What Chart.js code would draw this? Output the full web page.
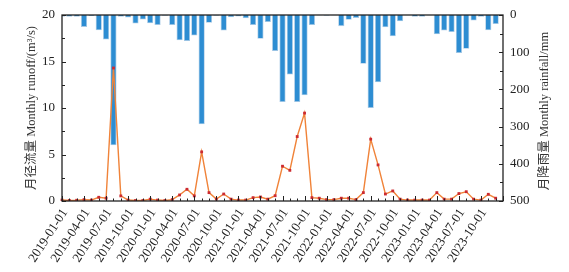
<!DOCTYPE html>
<html>
<head>
<meta charset="utf-8">
<script src="https://cdn.jsdelivr.net/npm/chart.js@4.4.0/dist/chart.umd.min.js"></script>
<style>
  html, body { margin: 0; padding: 0; background: #fff; }
  #contenedor { width: 569px; height: 272px; }
</style>
</head>
<body>
<div id="contenedor"><canvas id="grafico"></canvas></div>
<script>
// Meses (el ultimo solo marca el final del eje)
const meses = [
  '2019-01-01','2019-02-01','2019-03-01','2019-04-01','2019-05-01','2019-06-01',
  '2019-07-01','2019-08-01','2019-09-01','2019-10-01','2019-11-01','2019-12-01',
  '2020-01-01','2020-02-01','2020-03-01','2020-04-01','2020-05-01','2020-06-01',
  '2020-07-01','2020-08-01','2020-09-01','2020-10-01','2020-11-01','2020-12-01',
  '2021-01-01','2021-02-01','2021-03-01','2021-04-01','2021-05-01','2021-06-01',
  '2021-07-01','2021-08-01','2021-09-01','2021-10-01','2021-11-01','2021-12-01',
  '2022-01-01','2022-02-01','2022-03-01','2022-04-01','2022-05-01','2022-06-01',
  '2022-07-01','2022-08-01','2022-09-01','2022-10-01','2022-11-01','2022-12-01',
  '2023-01-01','2023-02-01','2023-03-01','2023-04-01','2023-05-01','2023-06-01',
  '2023-07-01','2023-08-01','2023-09-01','2023-10-01','2023-11-01','2023-12-01',
  '2024-01-01'
];

// Caudal mensual (m3/s)
const caudal = [
  0.1, 0.05, 0.08, 0.15, 0.1, 0.4, 0.3, 14.3, 0.55, 0.1, 0.05, 0.05,
  0.2, 0.1, 0.05, 0.15, 0.65, 1.26, 0.55, 5.28, 0.9, 0.2, 0.75, 0.2,
  0.1, 0.1, 0.36, 0.43, 0.2, 0.57, 3.74, 3.3, 6.93, 9.45, 0.36, 0.3,
  0.15, 0.15, 0.3, 0.3, 0.15, 0.9, 6.65, 3.88, 0.75, 1.08, 0.2, 0.1,
  0.1, 0.1, 0.1, 0.9, 0.2, 0.2, 0.8, 1.0, 0.2, 0.1, 0.72, 0.3
];

// Lluvia mensual (mm)
const lluvia = [
  5, 5, 5, 32, 3, 41, 66, 350, 5, 7, 23, 12,
  22, 27, 2, 27, 68, 70, 55, 294, 21, 2, 42, 6,
  4, 9, 27, 64, 19, 97, 234, 160, 234, 216, 27, 1,
  2, 1, 30, 13, 8, 131, 250, 181, 33, 57, 17, 1,
  5, 5, 1, 52, 42, 46, 102, 91, 15, 5, 41, 24
];

const ticksCaudal = [0, 5, 10, 15, 20];
const ticksLluvia = [0, 100, 200, 300, 400, 500];

const tituloIzq = '月径流量 Monthly runoff/(m³/s)';
const tituloDer = '月降雨量 Monthly rainfall/mm';
const fuente = "'Liberation Serif', 'Noto Sans CJK SC', serif";

// Marcas hacia dentro, recuadro y titulo derecho
const marcasDentro = {
  id: 'marcasDentro',
  afterDraw(chart) {
    const { ctx, chartArea: a, scales } = chart;
    ctx.save();
    ctx.strokeStyle = '#222';
    ctx.lineWidth = 1;
    ctx.beginPath();
    for (let i = 0; i < meses.length; i++) {
      const x = Math.round(scales.x.getPixelForValue(i)) + 0.5;
      const largo = i % 3 === 0 ? 5 : 2.5;
      ctx.moveTo(x, a.bottom);
      ctx.lineTo(x, a.bottom - largo);
    }
    for (let v = 0; v <= 20; v += 2.5) {
      const y = Math.round(scales.y.getPixelForValue(v)) + 0.5;
      ctx.moveTo(a.left, y);
      ctx.lineTo(a.left + (v % 5 === 0 ? 4 : 3), y);
    }
    for (let v = 0; v <= 500; v += 50) {
      const y = Math.round(scales.y2.getPixelForValue(v)) + 0.5;
      ctx.moveTo(a.right, y);
      ctx.lineTo(a.right - (v % 100 === 0 ? 4 : 3), y);
    }
    ctx.stroke();
    ctx.lineWidth = 1.3;
    ctx.strokeRect(a.left, a.top, a.right - a.left, a.bottom - a.top);

    ctx.fillStyle = '#333';
    ctx.font = '12.5px ' + fuente;
    ctx.textAlign = 'center';
    ctx.textBaseline = 'middle';
    ctx.translate(545, (a.top + a.bottom) / 2 + 3);
    ctx.rotate(-Math.PI / 2);
    ctx.fillText(tituloDer, 0, 0);
    ctx.restore();
  }
};

const ctx = document.getElementById('grafico').getContext('2d');
const grafico = new Chart(ctx, {
  type: 'bar',
  data: {
    labels: meses,
    datasets: [
      {
        type: 'line',
        label: 'runoff',
        data: caudal,
        yAxisID: 'y',
        borderColor: '#f08339',
        borderWidth: 1.4,
        tension: 0,
        pointStyle: 'rect',
        pointRadius: 2,
        pointBackgroundColor: '#cc2a30',
        pointBorderWidth: 0,
        order: 1
      },
      {
        type: 'bar',
        label: 'rainfall',
        data: lluvia,
        yAxisID: 'y2',
        backgroundColor: '#2d8dd2',
        borderColor: '#a6c8e4',
        borderWidth: 0.8,
        barPercentage: 0.84,
        categoryPercentage: 1,
        order: 2
      }
    ]
  },
  options: {
    responsive: true,
    maintainAspectRatio: false,
    animation: false,
    layout: { padding: { top: 15, left: 0, right: 0, bottom: 0 } },
    plugins: {
      legend: { display: false },
      tooltip: { enabled: false }
    },
    scales: {
      x: {
        type: 'category',
        offset: false,
        grid: { display: false, drawTicks: false },
        border: { display: false },
        ticks: {
          autoSkip: false,
          minRotation: 57,
          maxRotation: 57,
          padding: 5,
          labelOffset: 3,
          color: '#222',
          font: { family: fuente, size: 13 },
          callback: function (val, i) {
            return (i % 3 === 0 && i < meses.length - 1) ? meses[i] : '';
          }
        },
        afterFit: function (s) { s.height = 71; }
      },
      y: {
        position: 'left',
        min: 0,
        max: 20,
        grid: { display: false, drawTicks: false },
        border: { display: false },
        afterBuildTicks: function (s) { s.ticks = ticksCaudal.map(v => ({ value: v })); },
        ticks: { padding: 7, color: '#222', font: { family: fuente, size: 13 } },
        title: {
          display: true,
          text: tituloIzq,
          color: '#333',
          font: { family: fuente, size: 12.5 },
          padding: { top: 24, bottom: 0 }
        },
        afterFit: function (s) { s.width = 62; }
      },
      y2: {
        position: 'right',
        reverse: true,
        min: 0,
        max: 500,
        grid: { display: false, drawTicks: false },
        border: { display: false },
        afterBuildTicks: function (s) { s.ticks = ticksLluvia.map(v => ({ value: v })); },
        ticks: { padding: 7, color: '#222', font: { family: fuente, size: 13 } },
        afterFit: function (s) { s.width = 66; }
      }
    }
  },
  plugins: [marcasDentro]
});
</script>
</body>
</html>
